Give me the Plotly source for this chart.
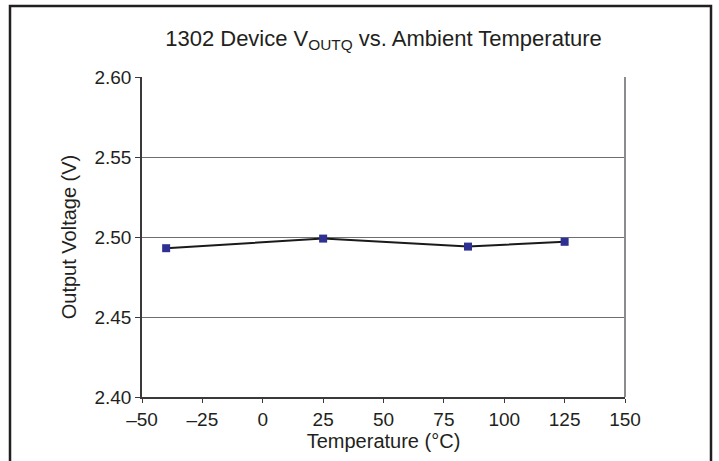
import plotly.graph_objects as go

temps = [-40, 25, 85, 125]
vout = [2.493, 2.499, 2.494, 2.497]
x_ticks = [-50, -25, 0, 25, 50, 75, 100, 125, 150]
x_tick_labels = ["\u201350", "\u201325", "0", "25", "50", "75", "100", "125", "150"]
y_ticks = [2.40, 2.45, 2.50, 2.55, 2.60]
y_tick_labels = ["2.40", "2.45", "2.50", "2.55", "2.60"]

FONT = "Liberation Sans, Arial, sans-serif"

fig = go.Figure()
fig.add_trace(go.Scatter(
    x=temps, y=vout, mode="lines+markers",
    line=dict(color="#1a1a1a", width=2),
    marker=dict(symbol="square", size=8, color="#2e3192"),
    showlegend=False, cliponaxis=False,
))

fig.update_layout(
    width=719, height=461,
    margin=dict(l=142, r=94, t=77, b=64),
    paper_bgcolor="white", plot_bgcolor="white",
    font=dict(family=FONT, size=19, color="#231f20"),
    title=dict(text="1302 Device V<sub>OUTQ</sub> vs. Ambient Temperature",
               x=0.5, xref="paper", xanchor="center",
               y=1 - 38 / 461, yref="container", yanchor="middle",
               font=dict(size=22, family=FONT, color="#231f20")),
    xaxis=dict(range=[-50, 150], tickvals=x_ticks, ticktext=x_tick_labels,
               showgrid=False, zeroline=False,
               showline=True, linecolor="#3a3a3a", linewidth=1.5,
               ticks="outside", ticklen=4, tickcolor="#3a3a3a",
               title=dict(text="Temperature (\u00b0C)", standoff=2,
                          font=dict(size=20)),
               tickfont=dict(size=19)),
    yaxis=dict(range=[2.40, 2.60], tickvals=y_ticks, ticktext=y_tick_labels,
               showgrid=True, gridcolor="#6d6e71", gridwidth=1,
               zeroline=False,
               showline=True, linecolor="#3a3a3a", linewidth=1.5,
               ticks="outside", ticklen=5, tickcolor="#3a3a3a",
               title=dict(text="Output Voltage (V)", standoff=12,
                          font=dict(size=20)),
               tickfont=dict(size=19)),
)

# right border of plot area (gray)
fig.add_shape(type="line", xref="paper", yref="paper", x0=1, x1=1, y0=0, y1=1,
              line=dict(color="#8a8c8e", width=2))
# outer frame around whole chart
fig.add_shape(type="rect", xref="paper", yref="paper",
              x0=-132/483, x1=(711-142)/483, y0=-80/320, y1=(397-6)/320,
              line=dict(color="#231f20", width=2.5), layer="below")

fig.write_html("out.html", config={"displayModeBar": False},
               post_script="document.body.style.margin='0';document.body.style.overflow='hidden';")
